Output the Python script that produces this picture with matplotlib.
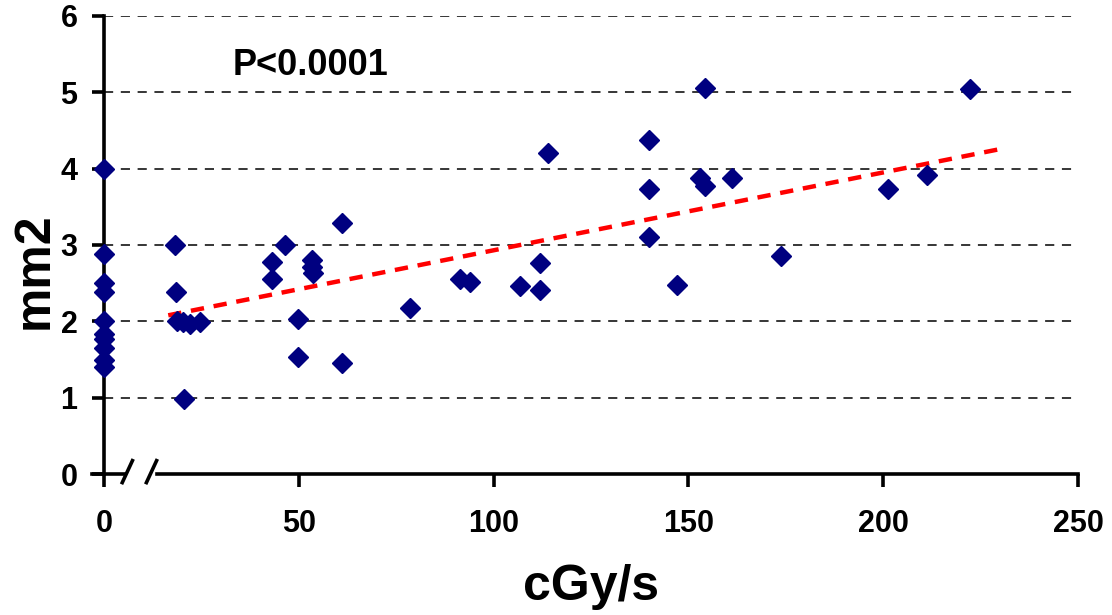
import matplotlib
matplotlib.use("Agg")
import matplotlib.pyplot as plt
from matplotlib.lines import Line2D

plt.rcParams['font.family'] = ['Liberation Sans', 'DejaVu Sans']

# ---- data ----
dose_rate = [0, 0, 0, 0, 0, 0, 0, 0, 0, 0,
             18.2, 18.5, 18.8, 20.4, 22.1, 24.7, 20.6,
             43.1, 43.1, 46.5, 49.7, 49.9, 53.5, 53.5, 53.7, 61.1, 61.1,
             78.6, 91.5, 94.0, 106.7, 112.0, 112.0, 113.9,
             140.0, 140.0, 140.0, 147.1, 153.1, 154.2, 154.2, 161.1, 173.9,
             201.3, 211.2, 222.3]
area_mm2 = [4.0, 2.88, 2.5, 2.38, 2.0, 1.84, 1.77, 1.65, 1.5, 1.41,
            3.0, 2.38, 2.0, 1.99, 1.97, 1.99, 0.99,
            2.78, 2.56, 3.0, 2.03, 1.53, 2.81, 2.71, 2.64, 3.29, 1.46,
            2.17, 2.56, 2.51, 2.46, 2.76, 2.41, 4.2,
            4.38, 3.73, 3.1, 2.48, 3.87, 3.77, 5.06, 3.88, 2.86,
            3.73, 3.91, 5.04]
trend_x = [16.5, 231.5]
trend_y = [2.08, 4.27]

x_ticks = [0, 50, 100, 150, 200, 250]
y_ticks = [0, 1, 2, 3, 4, 5, 6]
x_label = "cGy/s"
y_label = "mm2"
annotation = "P<0.0001"

# ---- figure ----
fig = plt.figure(figsize=(11.12, 6.15), dpi=100)
ax = fig.add_axes([0.0935, 0.2288, 0.8759, 0.7457])
ax.set_xlim(0, 250)
ax.set_ylim(0, 6)

for yv in y_ticks[1:]:
    ax.axhline(yv, color='black', lw=1.1, dashes=(6, 5), zorder=1)

ax.plot(trend_x, trend_y, color='#ff0000', lw=3.2, dashes=(3, 2.2), zorder=2)
ax.plot(dose_rate, area_mm2, linestyle='none', marker='D', markersize=10.5,
        color='#000080', markeredgecolor='#000080', clip_on=False, zorder=3)

for s in ['top', 'right']:
    ax.spines[s].set_visible(False)
ax.spines['left'].set_linewidth(2.6)
ax.spines['bottom'].set_linewidth(2.6)
ax.spines['bottom'].set_bounds(13.5, 250)

# axis break on the x axis
trans = ax.transData
ax.add_line(Line2D([-3, 5.5], [0, 0], color='black', lw=2.6, clip_on=False, transform=trans))
for xb in (4.5, 10.7):
    ax.add_line(Line2D([xb, xb + 3.0], [-0.13, 0.2], color='black', lw=2.6,
                       clip_on=False, transform=trans, solid_capstyle='butt'))

ax.set_xticks(x_ticks)
ax.set_yticks(y_ticks)
ax.tick_params(axis='both', direction='out', length=9, width=2.6, labelsize=22)
ax.tick_params(axis='x', pad=16)
ax.tick_params(axis='y', pad=10)
for lab in ax.get_xticklabels() + ax.get_yticklabels():
    lab.set_fontweight('bold')

ax.set_xlabel(x_label, fontsize=36, fontweight='bold', labelpad=18)
ax.set_ylabel(y_label, fontsize=36, fontweight='bold')
ax.yaxis.set_label_coords(-0.048, 0.445)

ax.text(33, 5.35, annotation, fontsize=26, fontweight='bold', va='center', ha='left')

fig.savefig("out.png", dpi=100)
